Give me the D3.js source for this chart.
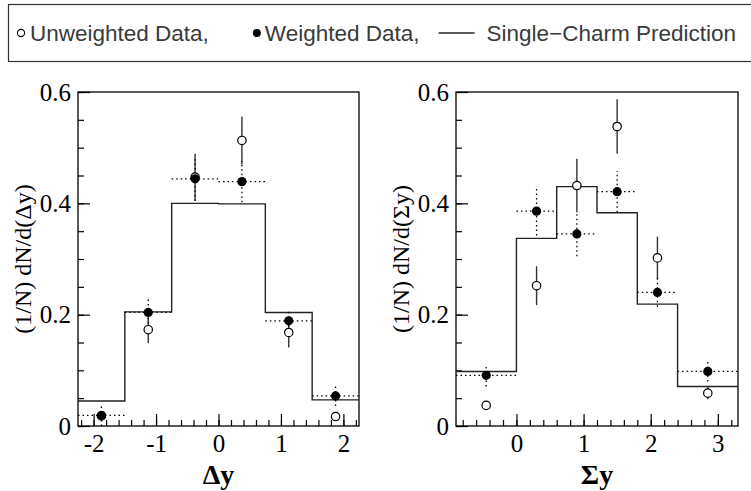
<!DOCTYPE html>
<html>
<head>
<meta charset="utf-8">
<script src="https://cdn.jsdelivr.net/npm/d3@7"></script>
<style>
  body { margin: 0; background: #fff; }
  svg { display: block; }
  .serif { font-family: "Liberation Serif", "DejaVu Serif", serif; }
  .sans { font-family: "Liberation Sans", "DejaVu Sans", sans-serif; }
</style>
</head>
<body>
<svg id="chart" width="751" height="491"></svg>
<script>
// bin edges, single-charm prediction and the two data sets
const dyEdges   = [-2.25, -1.5, -0.75, 0, 0.75, 1.5, 2.25];
const dyPred    = [0.045, 0.205, 0.400, 0.399, 0.204, 0.047];
const dyUnw     = [0.018, 0.173, 0.447, 0.513, 0.168, 0.017];
const dyUnwErr  = [0.008, 0.024, 0.042, 0.043, 0.027, 0.008];
const dyW       = [0.019, 0.204, 0.444, 0.439, 0.189, 0.054];
const dyWErr    = [0.019, 0.028, 0.040, 0.037, 0.019, 0.018];

const syEdges   = [-0.9, 0, 0.6, 1.2, 1.8, 2.4, 3.3];
const syPred    = [0.098, 0.337, 0.430, 0.383, 0.219, 0.071];
const syUnw     = [0.037, 0.252, 0.432, 0.538, 0.302, 0.059];
const syUnwErr  = [0.008, 0.035, 0.048, 0.049, 0.038, 0.011];
const syW       = [0.091, 0.386, 0.345, 0.421, 0.240, 0.098];
const syWErr    = [0.020, 0.044, 0.040, 0.037, 0.026, 0.018];

const yTicks    = [0, 0.2, 0.4, 0.6];
const dyTicks   = [-2, -1, 0, 1, 2];
const syTicks   = [0, 1, 2, 3];

const legendItems = ["Unweighted Data,", "Weighted Data,", "Single\u2212Charm Prediction"];

const svg = d3.select("#chart");

const plotTop = 92, plotBottom = 426;

function panel(opts) {
    const x = d3.scaleLinear().domain(opts.domain).range([opts.left, opts.right]);
    const y = d3.scaleLinear().domain([0, 0.6]).range([plotBottom, plotTop]);
    const g = svg.append("g");

    // minor ticks first, majors with labels on top
    const xMinor = d3.range(Math.ceil(opts.domain[0] * 5), Math.floor(opts.domain[1] * 5) + 1).map(v => v / 5);
    const yMinor = d3.range(0, 13).map(v => v * 0.05);

    g.append("g")
        .attr("transform", `translate(0,${plotBottom})`)
        .call(d3.axisBottom(x).tickValues(xMinor).tickSize(-6).tickFormat(""));
    g.append("g")
        .attr("transform", `translate(0,${plotBottom})`)
        .call(d3.axisBottom(x).tickValues(opts.ticks).tickSize(-12).tickPadding(8)
            .tickFormat(d => String(d)));
    g.append("g")
        .attr("transform", `translate(${opts.left},0)`)
        .call(d3.axisLeft(y).tickValues(yMinor).tickSize(-6).tickFormat(""));
    g.append("g")
        .attr("transform", `translate(${opts.left},0)`)
        .call(d3.axisLeft(y).tickValues(yTicks).tickSize(-12).tickPadding(7)
            .tickFormat(d => d === 0 ? "0" : d.toFixed(1)));

    g.selectAll(".domain").remove();
    g.selectAll("g").attr("font-family", null).attr("font-size", null);
    g.selectAll(".tick line").attr("stroke", "#000").attr("stroke-width", 1.2);
    g.selectAll(".tick text")
        .attr("class", "serif")
        .style("font-size", "25px")
        .attr("fill", "#000");

    // frame
    g.append("rect")
        .attr("x", opts.left).attr("y", plotTop)
        .attr("width", opts.right - opts.left).attr("height", plotBottom - plotTop)
        .attr("fill", "none").attr("stroke", "#000").attr("stroke-width", 1.3);

    // prediction histogram
    const steps = [];
    opts.pred.forEach((v, i) => {
        steps.push([opts.edges[i], v], [opts.edges[i + 1], v]);
    });
    g.append("path")
        .attr("d", d3.line().x(d => x(d[0])).y(d => y(d[1]))(steps))
        .attr("fill", "none")
        .attr("stroke", "#222")
        .attr("stroke-width", 1.4);

    const bins = opts.pred.map((p, i) => ({
        lo: opts.edges[i],
        hi: opts.edges[i + 1],
        c: (opts.edges[i] + opts.edges[i + 1]) / 2,
        u: opts.unw[i], ue: opts.unwErr[i],
        w: opts.w[i], we: opts.wErr[i]
    }));

    // unweighted: solid vertical errors
    g.selectAll(".uerr").data(bins).enter().append("line")
        .attr("x1", d => x(d.c)).attr("x2", d => x(d.c))
        .attr("y1", d => y(d.u - d.ue)).attr("y2", d => y(d.u + d.ue))
        .attr("stroke", "#333").attr("stroke-width", 1.4);

    // weighted: dotted errors, horizontal over the bin
    g.selectAll(".werr").data(bins).enter().append("line")
        .attr("x1", d => x(d.c)).attr("x2", d => x(d.c))
        .attr("y1", d => y(d.w - d.we)).attr("y2", d => y(d.w + d.we))
        .attr("stroke", "#000").attr("stroke-width", 1.3)
        .attr("stroke-dasharray", "1.5,3");
    g.selectAll(".wbin").data(bins).enter().append("line")
        .attr("x1", d => x(d.lo)).attr("x2", d => x(d.hi))
        .attr("y1", d => y(d.w)).attr("y2", d => y(d.w))
        .attr("stroke", "#000").attr("stroke-width", 1.3)
        .attr("stroke-dasharray", "1.5,3");

    g.selectAll(".uopen").data(bins).enter().append("circle")
        .attr("cx", d => x(d.c)).attr("cy", d => y(d.u)).attr("r", 4.2)
        .attr("fill", "#fff").attr("stroke", "#000").attr("stroke-width", 1.2);
    g.selectAll(".wfill").data(bins).enter().append("circle")
        .attr("cx", d => x(d.c)).attr("cy", d => y(d.w)).attr("r", 4.6)
        .attr("fill", "#000");

    // axis titles
    g.append("text")
        .attr("class", "serif")
        .attr("transform", `translate(${opts.left - 47},${(plotTop + plotBottom) / 2}) rotate(-90)`)
        .attr("text-anchor", "middle")
        .style("font-size", "24px")
        .text(opts.yTitle);
    g.append("text")
        .attr("class", "serif")
        .attr("x", (opts.left + opts.right) / 2)
        .attr("y", 484)
        .attr("text-anchor", "middle")
        .style("font-weight", "bold")
        .style("font-size", "28px")
        .text(opts.xTitle);
}

panel({
    left: 78, right: 359, domain: [-2.25, 2.25], ticks: dyTicks,
    edges: dyEdges, pred: dyPred, unw: dyUnw, unwErr: dyUnwErr, w: dyW, wErr: dyWErr,
    yTitle: "(1/N) dN/d(\u0394y)", xTitle: "\u0394y"
});
panel({
    left: 456, right: 738, domain: [-0.9, 3.3], ticks: syTicks,
    edges: syEdges, pred: syPred, unw: syUnw, unwErr: syUnwErr, w: syW, wErr: syWErr,
    yTitle: "(1/N) dN/d(\u03A3y)", xTitle: "\u03A3y"
});

// legend
const leg = svg.append("g");
leg.append("rect")
    .attr("x", 8.5).attr("y", 4.5).attr("width", 746).attr("height", 57)
    .attr("fill", "none").attr("stroke", "#333").attr("stroke-width", 1.2);

const legY = 33;
function legText(x, s) {
    const t = leg.append("text")
        .attr("class", "sans")
        .attr("x", x).attr("y", legY + 8)
        .style("font-size", "22.5px")
        .attr("fill", "#3a3a3a")
        .text(s);
    return x + t.node().getComputedTextLength();
}

leg.append("circle").attr("cx", 21).attr("cy", legY).attr("r", 3.6)
    .attr("fill", "#fff").attr("stroke", "#000").attr("stroke-width", 1.1);
let cx = legText(30, legendItems[0]);
leg.append("circle").attr("cx", cx + 48).attr("cy", legY).attr("r", 4).attr("fill", "#000");
cx = legText(cx + 56, legendItems[1]);
leg.append("line").attr("x1", cx + 19).attr("x2", cx + 55)
    .attr("y1", legY).attr("y2", legY).attr("stroke", "#222").attr("stroke-width", 1.3);
legText(cx + 67, legendItems[2]);
</script>
</body>
</html>
